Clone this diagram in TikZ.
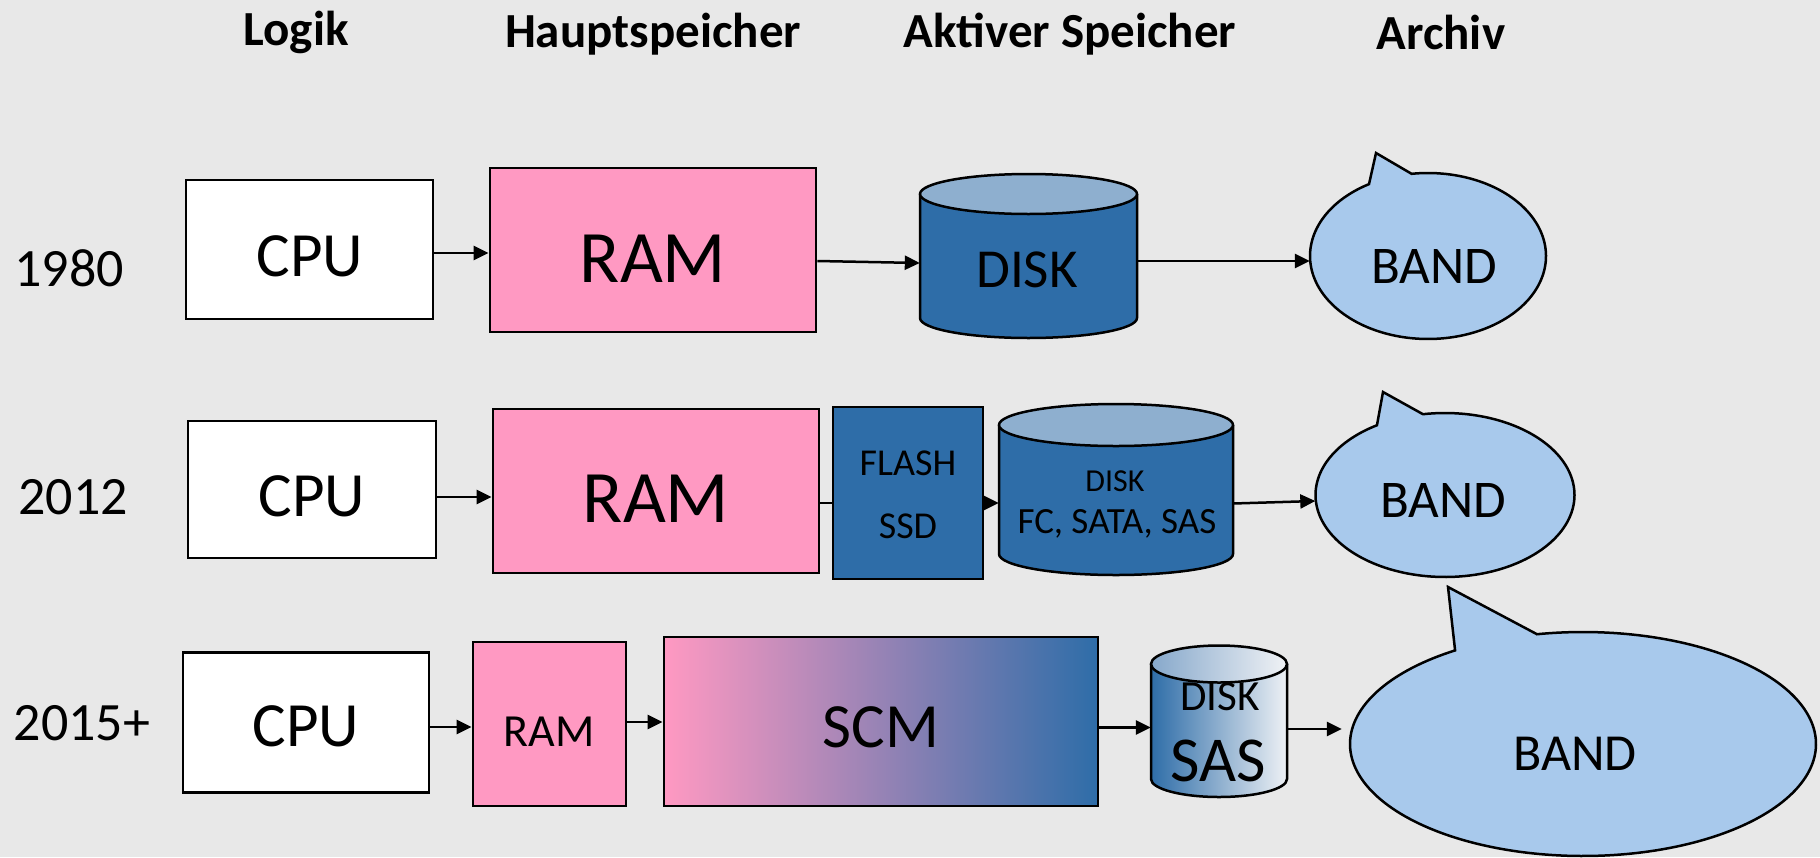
\documentclass[tikz,border=0pt]{standalone}
\usepackage{fontspec}
\setmainfont{Carlito}
\usetikzlibrary{arrows.meta}
\definecolor{bg}{HTML}{E8E8E8}
\definecolor{ramc}{HTML}{FF99C2}
\definecolor{bluec}{HTML}{2E6DA8}
\definecolor{topc}{HTML}{8EAFCF}
\definecolor{bandc}{HTML}{A8C9EC}
\definecolor{lightc}{HTML}{EEF1F5}
\definecolor{topl}{HTML}{86A8CB}
\definecolor{topr}{HTML}{F0F2F5}
\newcommand{\fsz}[1]{\fontsize{#1}{#1}\selectfont}
\begin{document}
\begin{tikzpicture}[x=1pt,y=-1pt,
  box/.style={draw=black, line width=2.8pt, inner sep=0pt},
  ghost/.style={inner sep=0pt, draw=none},
  txt/.style={anchor=base, inner sep=0pt},
  outl/.style={draw=black, line width=2.5pt, line join=miter},
  arr/.style={-{Triangle[length=15pt,width=14pt]}, line width=2.5pt},
  plain/.style={line width=2.5pt}]
\useasboundingbox (0,0) rectangle (1820,857);
\fill[bg] (0,0) rectangle (1820,857);

% headers
\node[txt, font=\bfseries\fsz{49}] (hlogik) at (296,45) {Logik};
\node[txt, font=\bfseries\fsz{49}] (hhaupt) at (653,47) {Hauptspeicher};
\node[txt, font=\bfseries\fsz{49}] (haktiv) at (1070,47) {Aktiver Speicher};
\node[txt, font=\bfseries\fsz{49}] (harch) at (1441,49) {Archiv};

% years
\node[txt, font=\fsz{54}] (y1980) at (69,286) {1980};
\node[txt, font=\fsz{54}] (y2012) at (73,514) {2012};
\node[txt, font=\fsz{54}] (y2015) at (82,740) {2015+};

% ---------- Row 1 ----------
\node[box, fill=white, minimum width=247pt, minimum height=139pt] (cpu1) at (309.5,249.5) {};
\node[txt, font=\fsz{63}] (cpu1t) at (310,276) {CPU};
\node[box, fill=ramc, minimum width=326pt, minimum height=164pt] (ram1) at (653,250) {};
\node[txt, font=\fsz{74}] (ram1t) at (653,282) {RAM};
% disk 1
\fill[bluec] (920,194) -- (920,318) arc[start angle=180,end angle=360,x radius=108.5pt,y radius=20pt] -- (1137,194) -- cycle;
\draw[outl] (920,194) -- (920,318) arc[start angle=180,end angle=360,x radius=108.5pt,y radius=20pt] -- (1137,194);
\draw[outl, fill=topc] (1028.5,194) ellipse[x radius=108.5pt, y radius=20pt];
\node[ghost, minimum width=217pt, minimum height=164pt] (disk1) at (1028.5,256) {};
\node[txt, font=\fsz{55}] (disk1t) at (1027,287) {DISK};
% band 1
\draw[outl, fill=bandc] plot[domain=120:458, samples=160] ({1428+118*cos(\x)},{256-83*sin(\x)}) -- (1376,153) -- cycle;
\node[ghost, minimum width=236pt, minimum height=166pt] (band1) at (1428,256) {};
\node[txt, font=\fsz{53}] (band1t) at (1434,283) {BAND};
% connectors row 1
\draw[arr] ([yshift=-3.5pt]cpu1.east) -- ([yshift=-3.5pt]cpu1.east -| ram1.west);
\draw[arr] ([yshift=-11pt]ram1.east) -- ([yshift=-7pt]disk1.west);
\draw[arr] ([yshift=-5pt]disk1.east) -- ([yshift=-5pt]band1.west);

% ---------- Row 2 ----------
\node[box, fill=white, minimum width=248pt, minimum height=137pt] (cpu2) at (312,489.5) {};
\node[txt, font=\fsz{63}] (cpu2t) at (312,516) {CPU};
\node[box, fill=ramc, minimum width=326pt, minimum height=164pt] (ram2) at (656,491) {};
\node[txt, font=\fsz{74}] (ram2t) at (656,522) {RAM};
\node[box, fill=bluec, minimum width=150pt, minimum height=172pt] (flash2) at (908,493) {};
\node[txt, font=\fsz{38}] (flash2t) at (908,475) {FLASH};
\node[txt, font=\fsz{38}] (ssd2t) at (908,538) {SSD};
% disk 2
\fill[bluec] (999,425) -- (999,554) arc[start angle=180,end angle=360,x radius=117pt,y radius=21pt] -- (1233,425) -- cycle;
\draw[outl] (999,425) -- (999,554) arc[start angle=180,end angle=360,x radius=117pt,y radius=21pt] -- (1233,425);
\draw[outl, fill=topc] (1116,425) ellipse[x radius=117pt, y radius=21pt];
\node[ghost, minimum width=234pt, minimum height=171pt] (disk2) at (1116,489.5) {};
\node[txt, font=\fsz{32}] (disk2t) at (1115,491) {DISK};
\node[txt, font=\fsz{37}] (disk2s) at (1117,533) {FC, SATA, SAS};
% band 2
\draw[outl, fill=bandc] plot[domain=121.7:459.8, samples=160] ({1445+129.5*cos(\x)},{495-82*sin(\x)}) -- (1383,392) -- cycle;
\node[ghost, minimum width=259pt, minimum height=164pt] (band2) at (1445,495) {};
\node[txt, font=\fsz{53}] (band2t) at (1443,517) {BAND};
% connectors row 2
\draw[arr] ([yshift=-7.5pt]cpu2.east) -- ([yshift=-7.5pt]cpu2.east -| ram2.west);
\draw[plain] ([yshift=-12pt]ram2.east) -- ([yshift=-12pt]ram2.east -| flash2.west);
\draw[arr] ([yshift=-10pt]flash2.east) -- ([yshift=-10pt]flash2.east -| disk2.west);
\draw[arr] ([yshift=-14pt]disk2.east) -- ([yshift=-6pt]band2.west);

% ---------- Row 3 ----------
\node[box, fill=white, minimum width=246pt, minimum height=140pt] (cpu3) at (306,722.5) {};
\node[txt, font=\fsz{63}] (cpu3t) at (306,746) {CPU};
\node[box, fill=ramc, minimum width=153pt, minimum height=164pt] (ram3) at (549.5,724) {};
\node[txt, font=\fsz{46}] (ram3t) at (549,746) {RAM};
\node[box, left color=ramc, right color=bluec, minimum width=434pt, minimum height=169pt] (scm3) at (881,721.5) {};
\node[txt, font=\fsz{63}] (scm3t) at (881,747) {SCM};
% disk 3
\shade[left color=bluec, right color=lightc] (1151,664) -- (1151,779) arc[start angle=180,end angle=360,x radius=68pt,y radius=18pt] -- (1287,664) -- cycle;
\draw[outl] (1151,664) -- (1151,779) arc[start angle=180,end angle=360,x radius=68pt,y radius=18pt] -- (1287,664);
\shade[left color=topl, right color=topr] (1219,664) ellipse[x radius=68pt, y radius=18.5pt];
\draw[outl] (1219,664) ellipse[x radius=68pt, y radius=18.5pt];
\node[ghost, minimum width=136pt, minimum height=151pt] (disk3) at (1219,721.5) {};
\node[txt, font=\fsz{43}] (disk3t) at (1220,710) {DISK};
\node[txt, font=\fsz{64}] (disk3s) at (1218,781) {SAS};
% band 3
\draw[outl, fill=bandc] plot[domain=123.3:461.4, samples=200] ({1583+233*cos(\x)},{744-112*sin(\x)}) -- (1448,587) -- cycle;
\node[ghost, minimum width=466pt, minimum height=224pt] (band3) at (1583,744) {};
\node[txt, font=\fsz{52}] (band3t) at (1575,770) {BAND};
% connectors row 3
\draw[arr] ([yshift=-4.5pt]cpu3.east) -- ([yshift=-4.5pt]cpu3.east -| ram3.west);
\draw[arr] ([yshift=2pt]ram3.east) -- ([yshift=2pt]ram3.east -| scm3.west);
\draw[arr] ([yshift=-6pt]scm3.east) -- ([yshift=-6pt]scm3.east -| disk3.west);
\draw[arr, shorten >=8pt] ([yshift=-7.5pt]disk3.east) -- ([yshift=-7.5pt]disk3.east -| band3.west);
\end{tikzpicture}
\end{document}
